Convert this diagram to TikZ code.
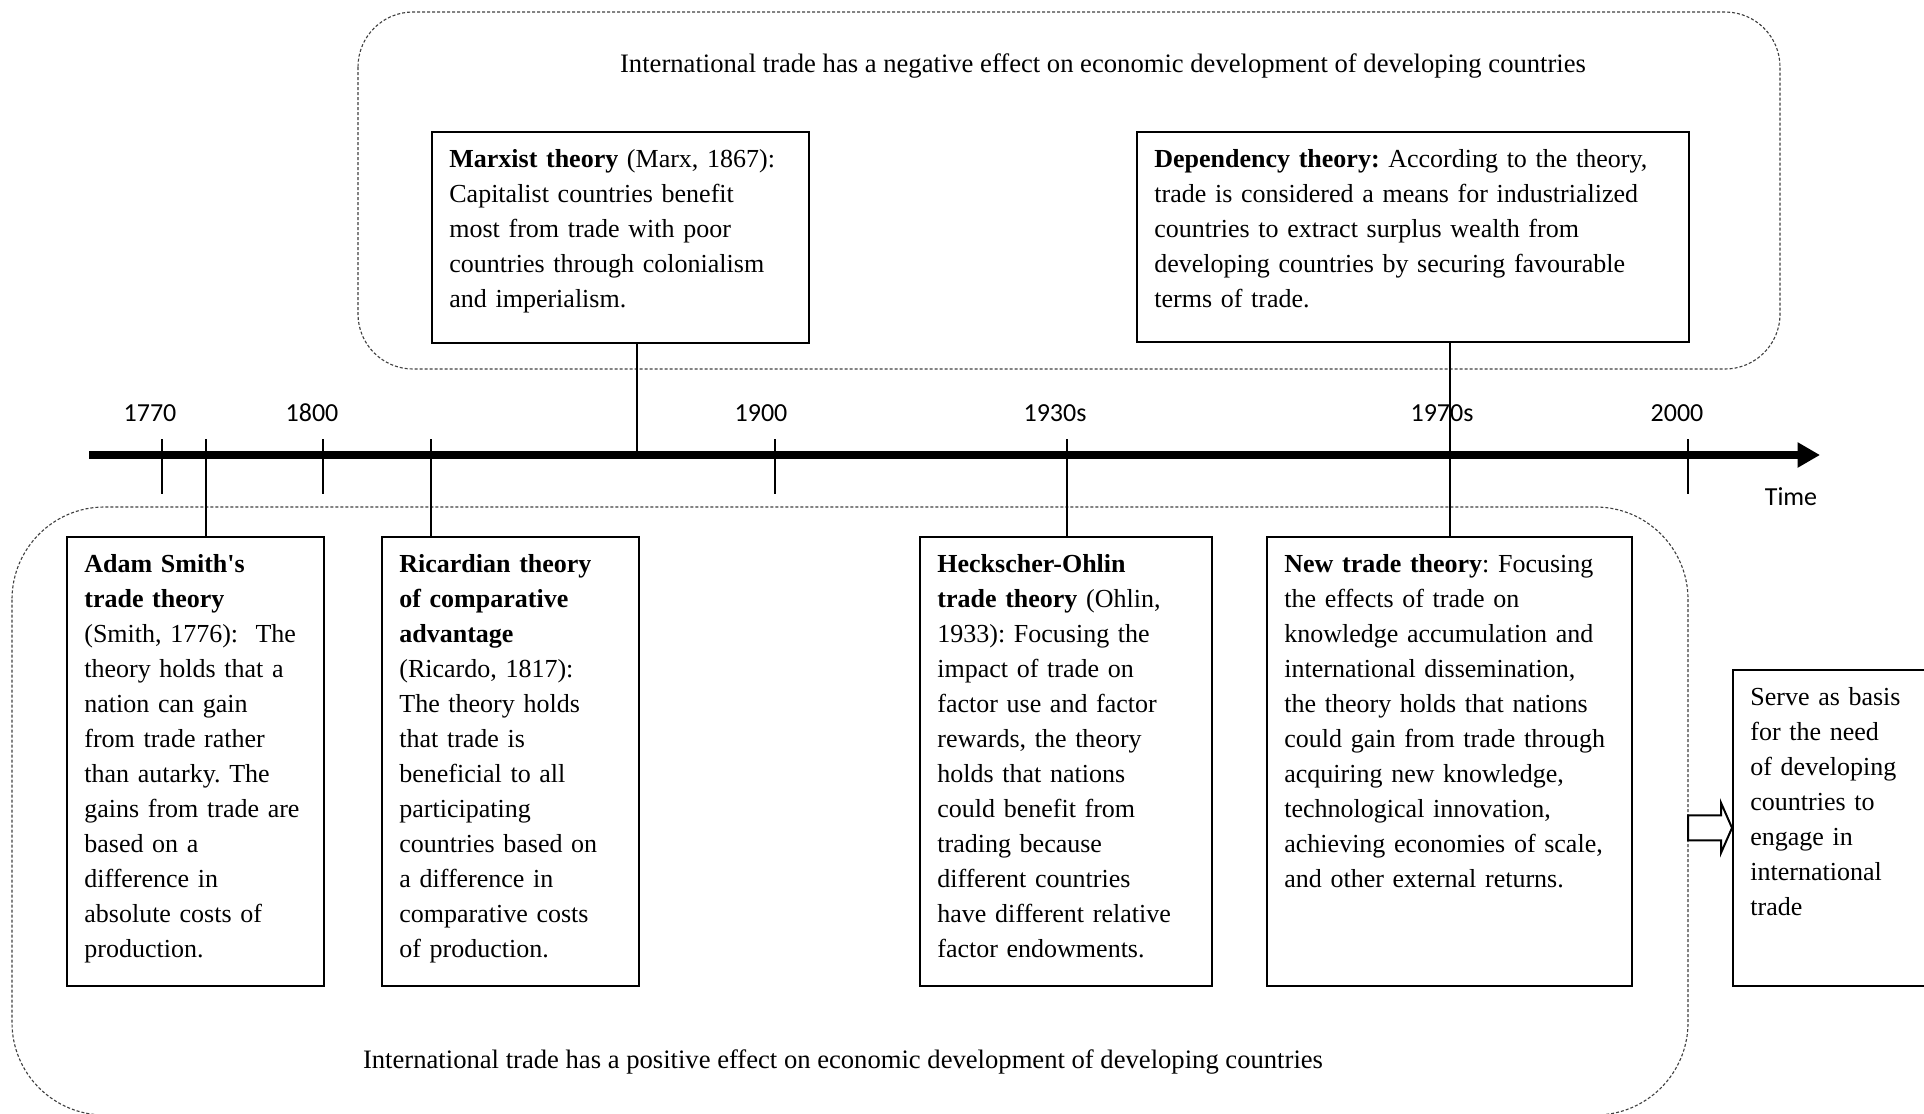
\documentclass[tikz,border=0pt]{standalone}
\usepackage{fontspec}
\setmainfont{Liberation Serif}
\newfontfamily\labelfont{Carlito}
\usetikzlibrary{arrows.meta}
\frenchspacing

\begin{document}
\begin{tikzpicture}[
    x=0.4pt, y=-0.4pt,
    every node/.style={font=\fontsize{10.4}{14}\selectfont},
    region/.style={draw=black!75, line width=0.45pt, dash pattern=on 1.2pt off 0.8pt},
    theory/.style 2 args={draw, line width=0.7pt, anchor=north west, align=left, inner xsep=7pt, inner ysep=4pt, text height=10.4pt, text width=#1, text depth=#2},
    heading/.style={inner sep=0pt, font=\fontsize{10.65}{14}\selectfont},
    yearlbl/.style={font=\labelfont\fontsize{10.4}{12}\selectfont, inner sep=0pt},
    ticker/.style={line width=0.8pt},
    joint/.style={line width=0.7pt},
]
\useasboundingbox (0,0) rectangle (1924,1113);
\clip (0,0) rectangle (1924,1113);

% negative / positive regions
\draw[region, rounded corners=22pt] (358,12) rectangle (1780,369);
\draw[region, rounded corners=37pt] (12,507) rectangle (1688,1115);
\node[heading] (neg) at (1103,66) {International trade has a negative effect on economic development of developing countries};
\node[heading] (pos) at (843,1062) {International trade has a positive effect on economic development of developing countries};

% time axis
\coordinate (tstart) at (89,455);
\coordinate (tend) at (1820,455);
\draw[line width=3.2pt, -{Triangle[length=9pt, width=9.6pt]}] (tstart) -- (tend);
\foreach \x in {162,323,775,1688}
    \draw[ticker] (\x,439) -- (\x,494);
\foreach \x/\yr in {150/1770, 312/1800, 761/1900, 1055/1930s, 1442/1970s, 1677/2000}
    \node[yearlbl] (y\yr) at (\x,413) {\yr};
\node[yearlbl] (time) at (1791,497) {Time};

% theories above the axis
\node[theory={136.8pt}{66pt}] (marx) at (431,131) {\textbf{Marxist theory} (Marx, 1867):\\Capitalist countries benefit\\most from trade with poor\\countries through colonialism\\and imperialism.};
\node[theory={206.8pt}{65.6pt}] (depend) at (1136,131) {\textbf{Dependency theory:} According to the theory,\\trade is considered a means for industrialized\\countries to extract surplus wealth from\\developing countries by securing favourable\\terms of trade.};

% theories below the axis
\node[theory={88.8pt}{161.2pt}] (smith) at (66,536) {\textbf{Adam Smith\textquotesingle s}\\\textbf{trade theory}\\(Smith, 1776):\ \ The\\theory holds that a\\nation can gain\\from trade rather\\than autarky. The\\gains from trade are\\based on a\\difference in\\absolute costs of\\production.};
\node[theory={88.8pt}{161.2pt}] (ricardo) at (381,536) {\textbf{Ricardian theory}\\\textbf{of comparative}\\\textbf{advantage}\\(Ricardo, 1817):\\The theory holds\\that trade is\\beneficial to all\\participating\\countries based on\\a difference in\\comparative costs\\of production.};
\node[theory={102.8pt}{161.2pt}] (heck) at (919,536) {\textbf{Heckscher-Ohlin}\\\textbf{trade theory} (Ohlin,\\1933): Focusing the\\impact of trade on\\factor use and factor\\rewards, the theory\\holds that nations\\could benefit from\\trading because\\different countries\\have different relative\\factor endowments.};
\node[theory={132pt}{161.2pt}] (newtr) at (1266,536) {\textbf{New trade theory}: Focusing\\the effects of trade on\\knowledge accumulation and\\international dissemination,\\the theory holds that nations\\could gain from trade through\\acquiring new knowledge,\\technological innovation,\\achieving economies of scale,\\and other external returns.};
\node[theory={100pt}{108pt}] (serve) at (1732,669) {Serve as basis\\for the need\\of developing\\countries to\\engage in\\international\\trade};

% links to the axis
\coordinate (s1776) at (206,439);
\coordinate (s1817) at (431,439);
\coordinate (s1933) at (1067,439);
\coordinate (s1867) at (637,455);
\coordinate (s1970) at (1450,455);
\draw[joint] (s1776) -- (s1776 |- smith.north);
\draw[joint] (s1817) -- (s1817 |- ricardo.north);
\draw[joint] (s1933) -- (s1933 |- heck.north);
\draw[joint] (marx.south -| s1867) -- (s1867);
\draw[joint] (depend.south -| s1970) -- (newtr.north -| s1970);

% hollow arrow into the conclusion
\draw[line width=0.8pt, fill=white] (serve.west) -- ++(-11,-25) -- ++(0,12.5) -- ++(-33,0) -- ++(0,25) -- ++(33,0) -- ++(0,12.5) -- cycle;

\end{tikzpicture}
\end{document}
